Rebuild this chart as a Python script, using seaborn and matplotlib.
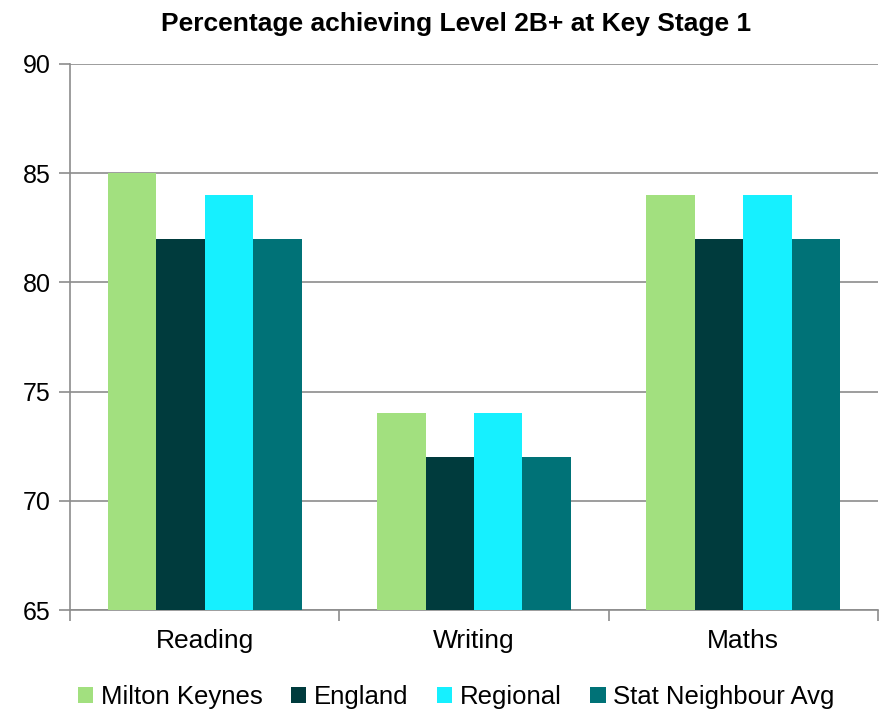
import numpy as np
import pandas as pd
import matplotlib
matplotlib.use('Agg')
import matplotlib.pyplot as plt
import seaborn as sns

# data
subjects = ['Reading', 'Writing', 'Maths']
series = ['Milton Keynes', 'England', 'Regional', 'Stat Neighbour Avg']
milton_keynes = [85, 74, 84]
england = [82, 72, 82]
regional = [84, 74, 84]
stat_neighbour = [82, 72, 82]

colors = ['#A2E07F', '#003B3D', '#16F0FF', '#007277']

df = pd.DataFrame({
    'subject': subjects * 4,
    'area': [s for s in series for _ in subjects],
    'pct': milton_keynes + england + regional + stat_neighbour,
})

sns.set_style('white')
plt.rcParams['font.family'] = ['Liberation Sans', 'DejaVu Sans']
plt.rcParams['text.color'] = 'black'
plt.rcParams['xtick.color'] = 'black'
plt.rcParams['ytick.color'] = 'black'

fig = plt.figure(figsize=(8.81, 7.11), dpi=100)
ax = fig.add_axes([0.0795, 0.142, 0.917, 0.768])

sns.barplot(data=df, x='subject', y='pct', hue='area', hue_order=series,
            order=subjects, palette=colors, width=0.72, saturation=1,
            edgecolor='none', linewidth=0, ax=ax, zorder=3)

ax.set_ylim(65, 90)
ax.set_yticks(range(65, 91, 5))
ax.set_xlim(-0.5, 2.5)
ax.grid(axis='y', color='#8c8c8c', linewidth=1.2, zorder=0)
ax.set_axisbelow(True)
for s in ['top', 'right']:
    ax.spines[s].set_visible(False)
for s in ['left', 'bottom']:
    ax.spines[s].set_color('#8c8c8c')
    ax.spines[s].set_linewidth(1.2)

ax.tick_params(axis='y', which='major', length=8, color='#8c8c8c', width=1.2,
               labelsize=18, pad=6, left=True, labelcolor='black')
ax.tick_params(axis='x', which='major', length=0, labelsize=19, pad=14, labelcolor='black')
ax.set_xticks([-0.5, 0.5, 1.5, 2.5], minor=True)
ax.tick_params(axis='x', which='minor', length=8, color='#8c8c8c', width=1.2, bottom=True)
ax.set_xlabel('')
ax.set_ylabel('')

ax.set_title('Percentage achieving Level 2B+ at Key Stage 1', x=0.478,
             fontsize=19, fontweight='bold', pad=24, color='black')

handles, labels = ax.get_legend_handles_labels()
ax.legend(handles, labels, loc='upper center', bbox_to_anchor=(0.478, -0.095),
          ncol=4, frameon=False, fontsize=18.5, handlelength=0.6, handleheight=0.6,
          handletextpad=0.3, columnspacing=1.1)

fig.savefig('out.png', dpi=100)
